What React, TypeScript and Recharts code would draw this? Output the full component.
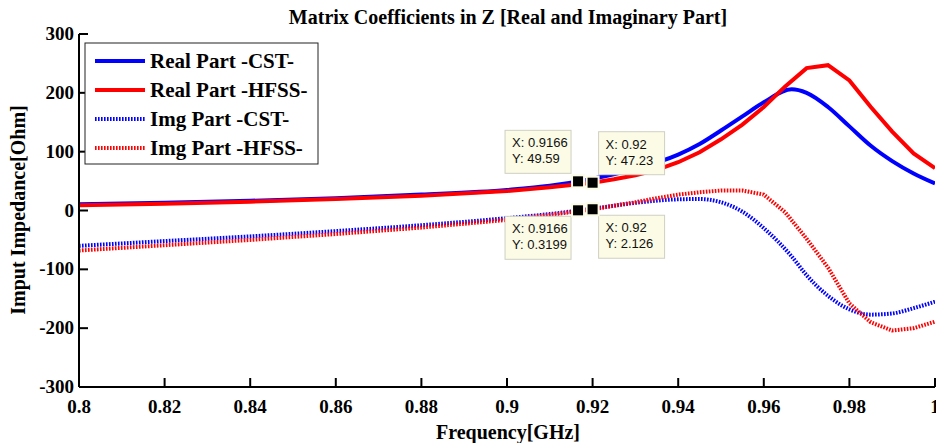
import React from 'react'
import { LineChart, Line, XAxis, YAxis, ReferenceDot } from 'recharts'

// CST sweep (GHz) and its curves
const cstFreq = [0.8, 0.82, 0.84, 0.86, 0.88, 0.9, 0.91, 0.92, 0.93, 0.94, 0.945, 0.95, 0.955, 0.96, 0.9665, 0.97, 0.975, 0.98, 0.985, 0.99, 0.995, 1.0]
const cstReal = [10.5, 13, 16.5, 21, 27, 35, 42, 54, 71, 95, 113, 136, 160, 184, 206, 200, 176, 143, 110, 84, 63, 46]
const cstImag = [-60, -52, -44, -35, -25, -13, -6, 3, 13, 19, 19.5, 14, -2, -30, -78, -110, -145, -168, -177, -175, -166, -155]

// HFSS sweep (GHz), coarser steps
const hfssFreq = [0.8, 0.82, 0.84, 0.86, 0.88, 0.9, 0.91, 0.92, 0.925, 0.93, 0.935, 0.94, 0.945, 0.95, 0.955, 0.96, 0.965, 0.97, 0.975, 0.98, 0.985, 0.99, 0.995, 1.0]
const hfssReal = [9, 11.5, 15, 19.5, 25, 33, 39.5, 47.2, 53, 60, 69, 82, 99, 121, 146, 176, 211, 242, 247, 221, 176, 134, 97, 72]
const hfssImag = [-68, -59, -50, -40, -29, -16, -7.5, 2.1, 8, 14, 21, 27, 31, 34, 34, 27, -3, -48, -97, -158, -190, -204, -200, -189]

const xTicks = [0.8, 0.82, 0.84, 0.86, 0.88, 0.9, 0.92, 0.94, 0.96, 0.98, 1.0]
const yTicks = [-300, -200, -100, 0, 100, 200, 300]

// data cursor readouts
const tipFreq = [0.9166, 0.92, 0.9166, 0.92]
const tipValue = [49.59, 47.23, 0.3199, 2.126]
const tipText = [['X: 0.9166', 'Y: 49.59'], ['X: 0.92', 'Y: 47.23'], ['X: 0.9166', 'Y: 0.3199'], ['X: 0.92', 'Y: 2.126']]

const zip = (xs: number[], ys: number[]) => xs.map((x, i) => ({ x, y: ys[i] }))

const series = [
  { name: 'Real Part -CST-', color: '#0000ff', dotted: false, data: zip(cstFreq, cstReal), curve: 'monotone' },
  { name: 'Real Part -HFSS-', color: '#ff0000', dotted: false, data: zip(hfssFreq, hfssReal), curve: 'linear' },
  { name: 'Img Part -CST-', color: '#0000ff', dotted: true, data: zip(cstFreq, cstImag), curve: 'monotone' },
  { name: 'Img Part -HFSS-', color: '#ff0000', dotted: true, data: zip(hfssFreq, hfssImag), curve: 'linear' },
]

const serif = '"Liberation Serif", "Times New Roman", serif'
const sans = '"Liberation Sans", Arial, sans-serif'
const DOTS = '1.6 1.4'

const fmtX = (v: number) => String(Number(v.toFixed(2)))

function BottomTick({ x, y, payload }: any) {
  return (
    <g>
      <line x1={x} x2={x} y1={y} y2={y - 9} stroke="#000" strokeWidth={2} />
      <text x={x} y={y + 26} textAnchor="middle" fontFamily={serif} fontWeight="bold" fontSize={19} fill="#000">
        {fmtX(payload.value)}
      </text>
    </g>
  )
}

function LeftTick({ x, y, payload }: any) {
  return (
    <g>
      <line x1={x} x2={x + 9} y1={y} y2={y} stroke="#000" strokeWidth={2} />
      <text x={x - 5} y={y + 6} textAnchor="end" fontFamily={serif} fontWeight="bold" fontSize={19} fill="#000">
        {payload.value}
      </text>
    </g>
  )
}

function TopTick({ x, y }: any) {
  return <line x1={x} x2={x} y1={y} y2={y + 9} stroke="#000" strokeWidth={2} />
}

function RightTick({ x, y }: any) {
  return <line x1={x} x2={x - 9} y1={y} y2={y} stroke="#000" strokeWidth={2} />
}

function tipShape(lines: string[], left: boolean, up: boolean) {
  return (props: any) => {
    const { cx, cy } = props
    const w = 66
    const h = 43
    const bx = left ? cx - 7 - w : cx + 6
    const by = up ? cy - 8 - h : cy + 6
    return (
      <g>
        <rect x={bx} y={by} width={w} height={h} fill="#fbfbe6" stroke="#cfcfc4" strokeWidth={1} />
        <text x={bx + 7} y={by + 17} fontFamily={sans} fontSize={13} fill="#111">{lines[0]}</text>
        <text x={bx + 7} y={by + 33} fontFamily={sans} fontSize={13} fill="#111">{lines[1]}</text>
        <rect x={cx - 7} y={cy - 7} width={14} height={14} fill="#fbfbe6" />
        <rect x={cx - 5} y={cy - 5} width={10} height={10} fill="#000" />
      </g>
    )
  }
}

function LegendBox() {
  return (
    <svg width={235} height={123} style={{ position: 'absolute', left: 84, top: 42 }}>
      <rect x={1} y={1} width={233} height={121} fill="#fff" stroke="#222" strokeWidth={1} />
      {series.map((s, i) => {
        const cy = 19 + i * 29
        return (
          <g key={s.name}>
            <line x1={11} x2={61} y1={cy} y2={cy} stroke={s.color} strokeWidth={4} strokeDasharray={s.dotted ? DOTS : undefined} />
            <text x={66} y={cy + 7} fontFamily={serif} fontWeight="bold" fontSize={21} fill="#000">{s.name}</text>
          </g>
        )
      })}
    </svg>
  )
}

const textStyle: React.CSSProperties = {
  position: 'absolute',
  fontFamily: serif,
  fontWeight: 'bold',
  fontSize: 20,
  color: '#000',
  textAlign: 'center',
  whiteSpace: 'nowrap',
}

export default function App() {
  return (
    <div style={{ position: 'absolute', left: 0, top: 0, width: 936, height: 443, background: '#fff', overflow: 'hidden' }}>
      <LineChart width={936} height={443} margin={{ top: 34, right: 1, bottom: 26, left: 19 }}>
        <XAxis
          dataKey="x"
          type="number"
          domain={[0.8, 1.0]}
          ticks={xTicks}
          interval={0}
          allowDataOverflow
          height={30}
          tickSize={0}
          tickMargin={0}
          tickLine={false}
          axisLine={{ stroke: '#000', strokeWidth: 2 }}
          tick={<BottomTick />}
        />
        <XAxis
          xAxisId="top"
          orientation="top"
          type="number"
          domain={[0.8, 1.0]}
          ticks={xTicks}
          interval={0}
          allowDataOverflow
          height={0}
          tickSize={0}
          tickMargin={0}
          tickLine={false}
          axisLine={{ stroke: '#000', strokeWidth: 2 }}
          tick={<TopTick />}
        />
        <YAxis
          type="number"
          domain={[-300, 300]}
          ticks={yTicks}
          interval={0}
          allowDataOverflow
          width={60}
          tickSize={0}
          tickMargin={0}
          tickLine={false}
          axisLine={{ stroke: '#000', strokeWidth: 2 }}
          tick={<LeftTick />}
        />
        <YAxis
          yAxisId="right"
          orientation="right"
          type="number"
          domain={[-300, 300]}
          ticks={yTicks}
          interval={0}
          allowDataOverflow
          width={0}
          tickSize={0}
          tickMargin={0}
          tickLine={false}
          axisLine={{ stroke: '#000', strokeWidth: 2 }}
          tick={<RightTick />}
        />
        {series.map((s) => (
          <Line
            key={s.name}
            data={s.data}
            dataKey="y"
            name={s.name}
            type={s.curve as any}
            stroke={s.color}
            strokeWidth={4}
            strokeDasharray={s.dotted ? DOTS : undefined}
            dot={false}
            activeDot={false}
            isAnimationActive={false}
          />
        ))}
        {tipFreq.map((f, i) => (
          <ReferenceDot
            key={i}
            x={f}
            y={tipValue[i]}
            r={5}
            shape={tipShape(tipText[i], i % 2 === 0, i < 2)}
          />
        ))}
      </LineChart>

      <div style={{ ...textStyle, left: 208, width: 600, top: 6, lineHeight: '22px' }}>
        Matrix Coefficients in Z [Real and Imaginary Part]
      </div>
      <div style={{ ...textStyle, left: 358, width: 300, top: 421, lineHeight: '22px' }}>Frequency[GHz]</div>
      <div
        style={{
          ...textStyle,
          left: 18 - 150,
          top: 210 - 11,
          width: 300,
          lineHeight: '22px',
          transform: 'rotate(-90deg)',
        }}
      >
        Imput Impedance[Ohm]
      </div>
      <LegendBox />
    </div>
  )
}
